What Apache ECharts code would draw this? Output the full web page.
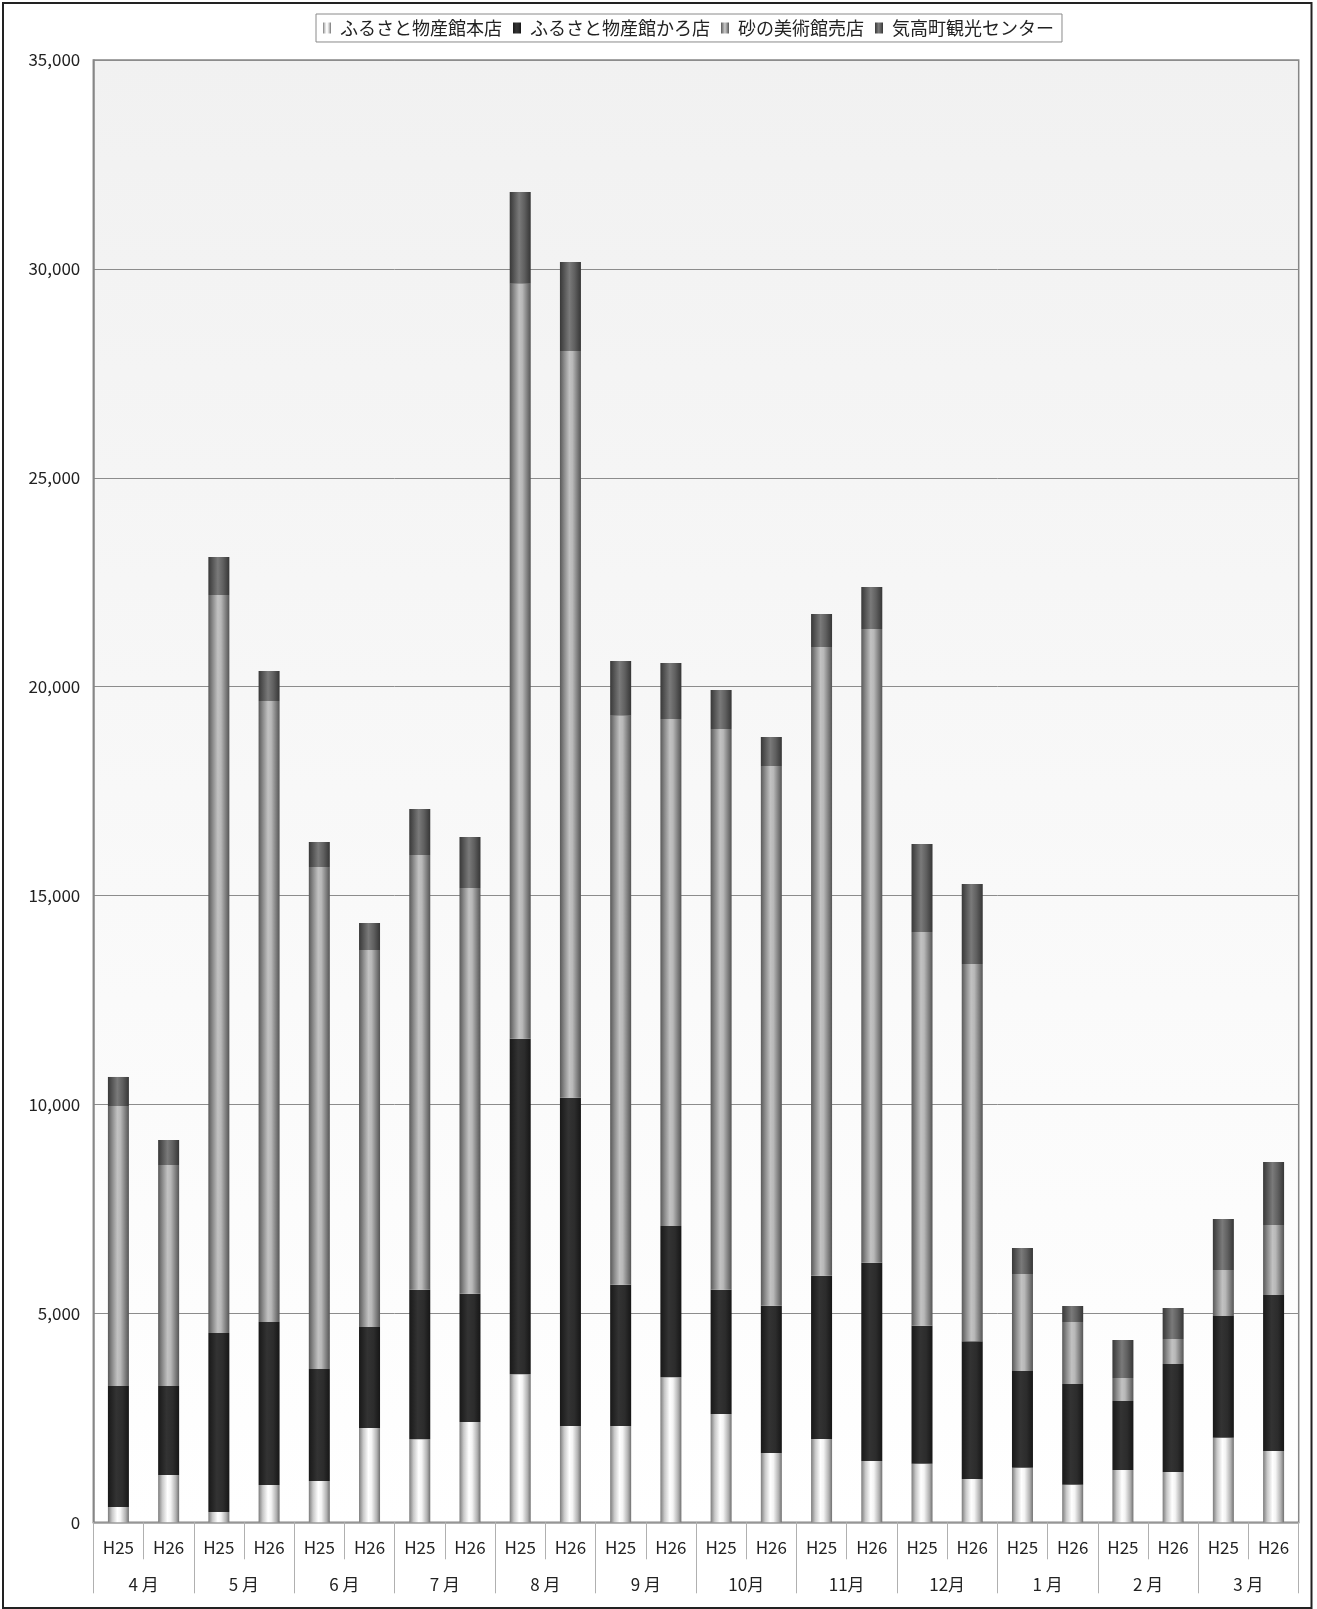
<!DOCTYPE html>
<html>
<head>
<meta charset="utf-8">
<script src="https://cdn.jsdelivr.net/npm/echarts@6/dist/echarts.min.js"></script>
<style>
html,body{margin:0;padding:0;background:#fff;}
#chart{width:1317px;height:1609px;}
</style>
</head>
<body>
<div id="chart"></div>
<script>
// ---- data ----
const yearLabels = ['H25','H26','H25','H26','H25','H26','H25','H26','H25','H26','H25','H26',
                    'H25','H26','H25','H26','H25','H26','H25','H26','H25','H26','H25','H26'];
const monthLabels = ['4 月','5 月','6 月','7 月','8 月','9 月','10月','11月','12月','1 月','2 月','3 月'];
const seriesNames = ['ふるさと物産館本店','ふるさと物産館かろ店','砂の美術館売店','気高町観光センター'];
const honten   = [366,1132,247,893,988,2260,1990,2401,3542,2305,2305,3471,2592,1659,1994,1467,1403,1036,1307,900,1252,1204,2025,1707];
const karo     = [2896,2130,4284,3901,2681,2414,3577,3071,8033,7858,3382,3621,2975,3525,3908,4747,3303,3296,2314,2410,1651,2585,2913,3733];
const suna     = [6702,5290,17664,14864,12015,9024,10405,9710,18071,17872,13619,12135,13421,12918,15048,15167,9423,9031,2322,1484,551,598,1101,1676];
const ketaka   = [695,599,910,718,599,646,1101,1221,2195,2130,1309,1340,933,694,790,1005,2106,1915,622,383,909,742,1220,1508];
const yTicks = {min:0, max:35000, interval:5000};

// ---- styles ----
function hGrad(stops){
  return {type:'linear',x:0,y:0,x2:1,y2:0,colorStops:stops.map(s=>({offset:s[0],color:s[1]}))};
}
const fills = [
  hGrad([[0,'#7c7c7c'],[0.2,'#c8c8c8'],[0.45,'#ffffff'],[0.6,'#f4f4f4'],[0.85,'#b0b0b0'],[1,'#707070']]),
  hGrad([[0,'#181818'],[0.4,'#333333'],[0.7,'#2c2c2c'],[1,'#161616']]),
  hGrad([[0,'#595959'],[0.2,'#8a8a8a'],[0.45,'#c2c2c2'],[0.6,'#b8b8b8'],[0.85,'#7a7a7a'],[1,'#555555']]),
  hGrad([[0,'#383838'],[0.45,'#7a7a7a'],[0.7,'#606060'],[1,'#363636']])
];
const font = '"Noto Sans CJK JP", "Noto Sans", sans-serif';
const dataSets = [honten, karo, suna, ketaka];

const chart = echarts.init(document.getElementById('chart'), null, {renderer:'canvas'});
chart.setOption({
  backgroundColor:'#ffffff',
  textStyle:{fontFamily:font},
  animation:false,
  graphic:[{
    type:'rect', silent:true, z:100,
    shape:{x:3,y:3,width:1308.5,height:1605},
    style:{fill:null,stroke:'#222',lineWidth:2}
  }],
  legend:{
    data:seriesNames,
    left:316, top:14,
    padding:[5,8,5,7],
    itemWidth:8, itemHeight:11, itemGap:11,
    icon:'rect',
    borderColor:'#8a8a8a', borderWidth:1,
    backgroundColor:'#ffffff',
    textStyle:{fontSize:18,color:'#222',fontFamily:font,padding:[0,0,0,4]}
  },
  grid:{
    left:93.3, right:18.3, top:60, bottom:86.7,
    show:true,
    borderColor:'#868686', borderWidth:1.5,
    backgroundColor:{type:'linear',x:0,y:0,x2:0,y2:1,colorStops:[{offset:0,color:'#f1f1f1'},{offset:1,color:'#ffffff'}]}
  },
  xAxis:[{
    type:'category', data:yearLabels, position:'bottom',
    axisLine:{show:true,lineStyle:{color:'#999',width:1.5}},
    axisTick:{show:true,interval:0,length:37,lineStyle:{color:'#b0b0b0'}},
    axisLabel:{interval:0,margin:17,fontSize:17,color:'#222',fontFamily:font},
    splitLine:{show:false}
  },{
    type:'category', data:monthLabels, position:'bottom', offset:0,
    axisLine:{show:false},
    axisTick:{show:true,interval:0,length:71,lineStyle:{color:'#b0b0b0'}},
    axisLabel:{interval:0,margin:54,fontSize:17,color:'#222',fontFamily:font},
    splitLine:{show:false}
  }],
  yAxis:{
    type:'value', min:yTicks.min, max:yTicks.max, interval:yTicks.interval,
    axisLine:{show:true,lineStyle:{color:'#868686',width:1.5}},
    axisTick:{show:false},
    axisLabel:{margin:13,fontSize:17,color:'#222',fontFamily:font,
      formatter:v=>v.toLocaleString('en-US')},
    splitLine:{show:true,lineStyle:{color:'#8c8c8c',width:1}}
  },
  series:seriesNames.map((name,i)=>({
    name:name, type:'bar', stack:'total', xAxisIndex:0,
    barWidth:21,
    data:dataSets[i],
    itemStyle:{color:fills[i]},
    emphasis:{disabled:true}
  }))
});
</script>
</body>
</html>
